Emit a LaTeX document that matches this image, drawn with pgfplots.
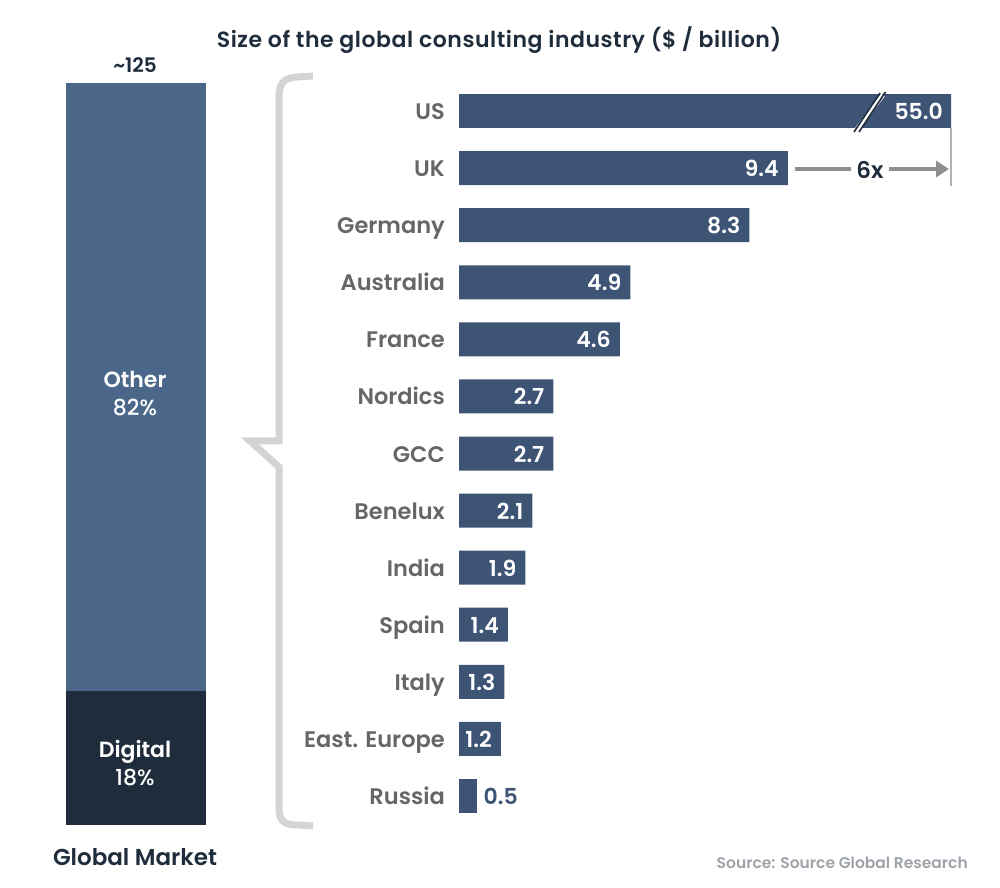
\documentclass[border=0pt]{standalone}
\usepackage{pgfplots}
\pgfplotsset{compat=1.18}
\usepackage{fontspec}
\setmainfont{Poppins}[BoldFont={* SemiBold}]
\newfontfamily\pmedium{Poppins Medium}
\usetikzlibrary{arrows.meta}
\definecolor{barblue}{HTML}{3D5475}
\definecolor{otherblue}{HTML}{4A6789}
\definecolor{navy}{HTML}{1F2C3C}
\definecolor{labgray}{HTML}{666666}
\definecolor{bracegray}{HTML}{D4D4D4}
\definecolor{arrowgray}{HTML}{8E8E8E}
\definecolor{srcgray}{HTML}{9EA3AA}
\begin{document}
\begin{tikzpicture}
\useasboundingbox (0pt,0pt) rectangle (1000pt,887pt);
% ---------- left: global market stacked bar ----------
\begin{axis}[at={(66pt,62pt)}, anchor=south west, scale only axis,
  width=140pt, height=742pt, hide axis, ybar stacked, bar width=140pt,
  xmin=0, xmax=1, ymin=0, ymax=100, clip=false]
\addplot[fill=navy, draw=none] coordinates {(0.5,18)};
\addplot[fill=otherblue, draw=none] coordinates {(0.5,82)};
\end{axis}
% ---------- right: countries ----------
\begin{axis}[at={(459pt,62.5pt)}, anchor=south west, scale only axis,
  width=492pt, height=742pt,
  xmin=0, xmax=14.06, ymin=-0.5, ymax=12.5, y dir=reverse,
  axis line style={draw=none}, xtick=\empty, ytick={0,...,12},
  yticklabels={US,UK,Germany,Australia,France,Nordics,GCC,Benelux,India,Spain,Italy,East. Europe,Russia},
  major tick length=0pt,
  yticklabel style={anchor=base east, inner sep=0pt, xshift=-14pt, yshift=-8.5pt, text=labgray,
    font=\fontsize{22.5}{24}\selectfont\bfseries},
  clip mode=individual,
  /pgf/number format/.cd, fixed, fixed zerofill, precision=1, assume math mode=true]
\addplot[xbar, bar width=34pt, bar shift=0pt, fill=barblue, draw=none] coordinates {(55,0)};
\addplot[xbar, bar width=34pt, bar shift=0pt, fill=barblue, draw=none,
  nodes near coords,
  every node near coord/.append style={anchor=base east, inner sep=0pt, xshift=-9pt, yshift=-8.5pt, text=white,
    font=\fontsize{22}{24}\selectfont\bfseries}]
  coordinates {(9.4,1) (8.3,2) (4.9,3) (4.6,4) (2.7,5) (2.7,6) (2.1,7) (1.9,8) (1.4,9) (1.3,10) (1.2,11)};
\addplot[xbar, bar width=34pt, bar shift=0pt, fill=barblue, draw=none,
  nodes near coords,
  every node near coord/.append style={anchor=base west, inner sep=0pt, xshift=7pt, yshift=-8.5pt, text=barblue,
    font=\fontsize{22}{24}\selectfont\bfseries}]
  coordinates {(0.5,12)};
\end{axis}
% ---------- annotations in pixel coordinates ----------
\begin{scope}[x=1pt, y=-1pt, shift={(0pt,887pt)}]
  % left bar labels
  \node[anchor=base, white, inner sep=0pt, font=\fontsize{22}{24}\selectfont\bfseries] at (135,388) {Other};
  \node[anchor=base, white, inner sep=0pt, font=\fontsize{22}{24}\pmedium] at (135,416) {82\%};
  \node[anchor=base, white, inner sep=0pt, font=\fontsize{22}{24}\selectfont\bfseries] at (135,757) {Digital};
  \node[anchor=base, white, inner sep=0pt, font=\fontsize{22}{24}\pmedium] at (135,785) {18\%};
  % brace
  \draw[bracegray, line width=7pt, line join=miter]
    (313,76) -- (297,77) .. controls (283,78) and (279,84) .. (279,97)
    -- (279,441) -- (250,441) -- (279,467) -- (279,808)
    .. controls (279,820) and (283,825) .. (297,825) -- (313,826);
  % US value and break mark
  \node[anchor=base east, inner sep=0pt, text=white, font=\fontsize{22}{24}\selectfont\bfseries] at (943,120) {55.0};
  \draw[white, line width=4.5pt] (857,129) -- (883,95);
  \draw[navy, line width=1.6pt] (854,132) -- (880,93);
  \draw[navy, line width=1.6pt] (859,132) -- (885.5,92);
  % vertical guide
  \draw[black!30, line width=1.5pt] (951,128) -- (951,186);
  % 6x arrow
  \draw[arrowgray, line width=4pt, -{Triangle[length=13pt,width=16pt]}] (795,169) -- (949,169);
  \node[fill=white, inner xsep=5pt, inner ysep=3pt, text=navy, font=\fontsize{23}{24}\selectfont\bfseries] at (870,170) {6x};
  % texts
  \node[anchor=base, inner sep=0pt, text=navy, font=\fontsize{22}{24}\selectfont\bfseries\addfontfeature{LetterSpace=2.5}] at (499,48) {Size of the global consulting industry (\$ / billion)};
  \node[anchor=base, inner sep=0pt, text=navy, font=\fontsize{20}{24}\selectfont\bfseries] at (135,73) {\textasciitilde125};
  \node[anchor=base, inner sep=0pt, text=navy, font=\fontsize{23}{24}\selectfont\bfseries] at (135,865) {Global Market};
  \node[anchor=base east, inner sep=0pt, text=srcgray, font=\fontsize{15.5}{18}\selectfont\bfseries] at (968,868) {Source: Source Global Research};
\end{scope}
\end{tikzpicture}
\end{document}
